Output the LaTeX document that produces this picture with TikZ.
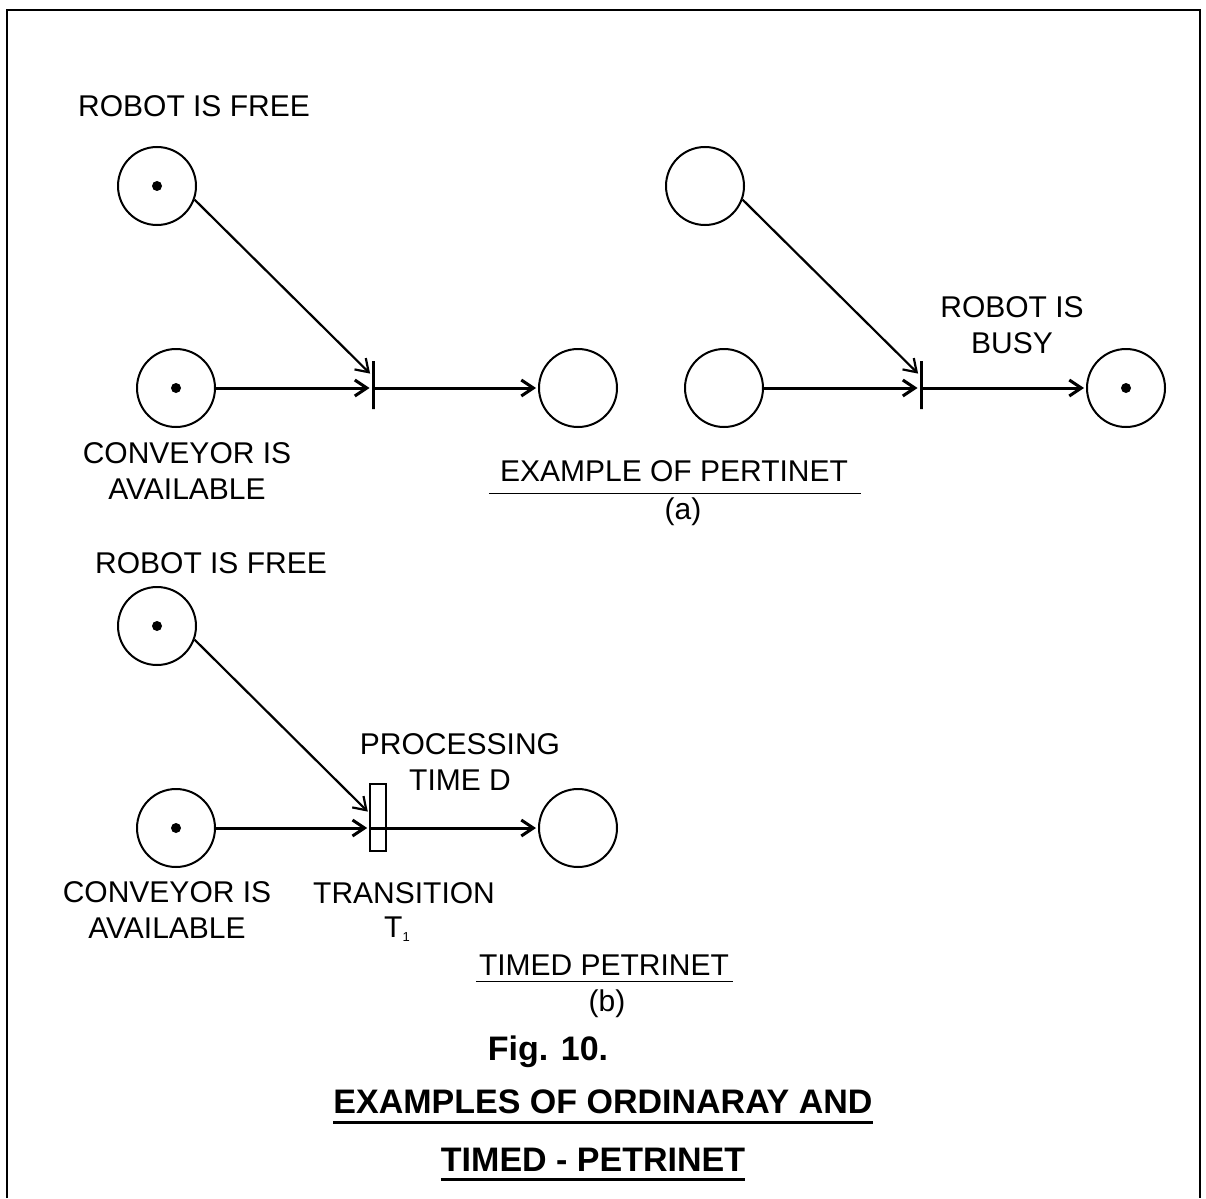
\documentclass[tikz,border=0pt]{standalone}
\usepackage{fontspec}
\setmainfont{Liberation Sans}
\usetikzlibrary{arrows.meta}
\begin{document}
\begin{tikzpicture}[x=1pt,y=-1pt,
  place/.style={circle,draw,line width=2pt,minimum size=78pt,inner sep=0pt},
  token/.style={circle,fill,inner sep=0pt,minimum size=10pt},
  bar/.style={draw,line width=3pt,minimum width=0pt,minimum height=48pt,inner sep=0pt},
  timedbar/.style={draw,line width=1.6pt,minimum width=16pt,minimum height=67pt,inner sep=0pt},
  arc/.style={-{Straight Barb[length=12pt,width=16pt]},line width=2.2pt,shorten >=2pt},
  feed/.style={arc,line width=3pt},
  lbl/.style={font=\fontsize{30}{36}\selectfont,inner sep=0pt,align=center},
  ttl/.style={font=\fontsize{34}{40}\selectfont\bfseries,inner sep=0pt},
  uline/.style={line width=1.6pt},
  tline/.style={line width=3pt},
]
\useasboundingbox (0,0) rectangle (1206,1198);

% open frame
\draw[line width=2pt] (7,1198) -- (7,10) -- (1200,10) -- (1200,1198);

% ---------- (a) ordinary Petri net ----------
\node[place] (p1) at (157,186) {};
\node[token] (p1d) at (p1.center) {};
\node[place] (p2) at (176,388) {};
\node[token] (p2d) at (p2.center) {};
\node[bar]   (t1) at (373,385) {};
\node[place] (p3) at (578,388) {};

\draw[arc]  (p1.-20) -- ([yshift=10pt]t1.west);
\draw[feed] (p2.east) -- (t1.west |- p2.east);
\draw[feed] (t1.east |- p3.west) -- (p3.west);

\node[place] (p4) at (705,186) {};
\node[place] (p5) at (724,388) {};
\node[bar]   (t2) at (921,385) {};
\node[place] (p6) at (1126,388) {};
\node[token] (p6d) at (p6.center) {};

\draw[arc]  (p4.-20) -- ([yshift=10pt]t2.west);
\draw[feed] (p5.east) -- (t2.west |- p5.east);
\draw[feed] (t2.east |- p6.west) -- (p6.west);

\node[lbl] (free1) at (194,106) {ROBOT IS FREE};
\node[lbl] (conv1) at (187,471) {CONVEYOR IS\\AVAILABLE};
\node[lbl] (busy)  at (1012,325) {ROBOT IS\\BUSY};
\node[lbl] (capa)  at (674,471) {EXAMPLE OF PERTINET};
\draw[uline] ([xshift=-11pt,yshift=-11.5pt]capa.south west) -- ([xshift=13pt,yshift=-11.5pt]capa.south east);
\node[lbl] (suba)  at (683,512) {(a)};

% ---------- (b) timed Petri net ----------
\node[place] (p7) at (157,626) {};
\node[token] (p7d) at (p7.center) {};
\node[place] (p8) at (176,828) {};
\node[token] (p8d) at (p8.center) {};
\node[timedbar] (t3) at (378,817.5) {};
\node[place] (p9) at (578,828) {};

\draw[arc]  (p7.-20) -- ([yshift=4.5pt]t3.west);
\draw[feed] (p8.east) -- (t3.west |- p8.east);
\draw[feed] (t3.west |- p9.west) -- (p9.west);

\node[lbl] (free2) at (211,563) {ROBOT IS FREE};
\node[lbl] (proc)  at (460,762) {PROCESSING\\TIME D};
\node[lbl] (conv2) at (167,910) {CONVEYOR IS\\AVAILABLE};
\node[lbl] (trans) at (404,893) {TRANSITION};
\node[lbl] (tname) at (397,929) {T\raisebox{-4pt}{\fontsize{13}{13}\selectfont 1}};
\node[lbl] (capb)  at (604,965) {TIMED PETRINET};
\draw[uline] ([xshift=-3pt,yshift=-6pt]capb.south west) -- ([xshift=4pt,yshift=-6pt]capb.south east);
\node[lbl] (subb)  at (607,1004) {(b)};

% ---------- caption ----------
\node[ttl] (fig)   at (548,1052) {Fig. 10.};
\node[ttl] (head1) at (603,1102) {EXAMPLES OF ORDINARAY AND};
\draw[tline] ([yshift=-8pt]head1.south west) -- ([yshift=-8pt]head1.south east);
\node[ttl] (head2) at (593,1160) {TIMED - PETRINET};
\draw[tline] ([yshift=-8pt]head2.south west) -- ([yshift=-8pt]head2.south east);
\end{tikzpicture}
\end{document}
